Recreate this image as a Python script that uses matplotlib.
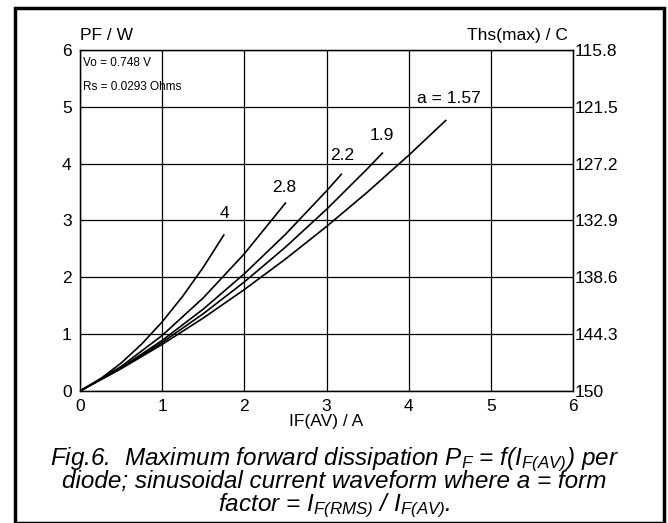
import matplotlib
matplotlib.use("Agg")
import matplotlib.pyplot as plt
from matplotlib.patches import Rectangle

plt.rcParams['font.family'] = ['Liberation Sans', 'DejaVu Sans']
plt.rcParams['mathtext.fontset'] = 'custom'
plt.rcParams['mathtext.rm'] = 'Liberation Sans:italic'
plt.rcParams['mathtext.it'] = 'Liberation Sans:italic'

# forward current IF(AV) / A and dissipation PF / W, one pair per form factor a
i_a4 = [0, 0.25, 0.5, 0.75, 1.0, 1.25, 1.5, 1.75]
p_a4 = [0, 0.216, 0.491, 0.825, 1.217, 1.668, 2.177, 2.745]

i_a28 = [0, 0.5, 1.0, 1.5, 2.0, 2.5]
p_a28 = [0, 0.431, 0.978, 1.639, 2.415, 3.306]

i_a22 = [0, 0.5, 1.0, 1.5, 2.0, 2.5, 3.0, 3.18]
p_a22 = [0, 0.409, 0.890, 1.441, 2.063, 2.756, 3.520, 3.813]

i_a19 = [0, 0.5, 1.0, 1.5, 2.0, 2.5, 3.0, 3.5, 3.68]
p_a19 = [0, 0.400, 0.854, 1.360, 1.919, 2.531, 3.196, 3.914, 4.186]

i_a157 = [0, 0.5, 1.0, 1.5, 2.0, 2.5, 3.0, 3.5, 4.0, 4.45]
p_a157 = [0, 0.392, 0.820, 1.284, 1.785, 2.321, 2.894, 3.502, 4.147, 4.759]

curve_labels = ["4", "2.8", "2.2", "1.9", "a = 1.57"]
label_pos = [(1.76, 3.12), (2.49, 3.58), (3.19, 4.14), (3.67, 4.49), (4.49, 5.14)]

x_ticks = [0, 1, 2, 3, 4, 5, 6]
p_ticks = [0, 1, 2, 3, 4, 5, 6]
ths_ticks = [150, 144.3, 138.6, 132.9, 127.2, 121.5, 115.8]

fig = plt.figure(figsize=(6.68, 5.23), dpi=100)
ax = fig.add_axes([0.1198, 0.2524, 0.7380, 0.6520])

curves = [(i_a4, p_a4), (i_a28, p_a28), (i_a22, p_a22), (i_a19, p_a19), (i_a157, p_a157)]
for (xs, ys) in curves:
    ax.plot(xs, ys, color='black', lw=1.2)

for lab, (lx, ly) in zip(curve_labels, label_pos):
    ax.text(lx, ly, lab, fontsize=12.5, ha='center', va='center')

ax.set_xlim(0, 6)
ax.set_ylim(0, 6)
ax.set_xticks(x_ticks)
ax.set_yticks(p_ticks)
ax.grid(True, color='black', lw=0.9)
ax.tick_params(length=0, labelsize=12.5, pad=6)
for s in ax.spines.values():
    s.set_linewidth(1.0)

ax2 = ax.twinx()
ax2.set_ylim(150, 115.8)
ax2.set_yticks(ths_ticks)
ax2.set_yticklabels([str(t) for t in ths_ticks])
ax2.tick_params(length=0, labelsize=12.5, pad=1.5)

ax.text(0.0, 1.02, "PF / W", transform=ax.transAxes, fontsize=12.5, ha='left', va='bottom')
ax.text(0.99, 1.02, "Ths(max) / C", transform=ax.transAxes, fontsize=12.5, ha='right', va='bottom')
ax.text(0.04, 5.78, "Vo = 0.748 V", fontsize=8.5, ha='left', va='center')
ax.text(0.04, 5.35, "Rs = 0.0293 Ohms", fontsize=8.5, ha='left', va='center')
ax.set_xlabel("IF(AV) / A", fontsize=12.5, labelpad=0)

caption_lines = ["Fig.6.  Maximum forward dissipation $P_F$ = f($I_{F(AV)}$) per",
                 "diode; sinusoidal current waveform where a = form",
                 "factor = $I_{F(RMS)}$ / $I_{F(AV)}$."]
caption_y = [1 - 465 / 523, 1 - 488 / 523, 1 - 511 / 523]
for line, cy in zip(caption_lines, caption_y):
    fig.text(0.5, cy, line, fontsize=17.5, style='italic', ha='center', va='baseline')

fig.patches.append(Rectangle((0.0225, 0.0), 0.9715, 0.985, transform=fig.transFigure,
                             fill=False, edgecolor='black', lw=2.5))

fig.savefig("out.png", dpi=100)
